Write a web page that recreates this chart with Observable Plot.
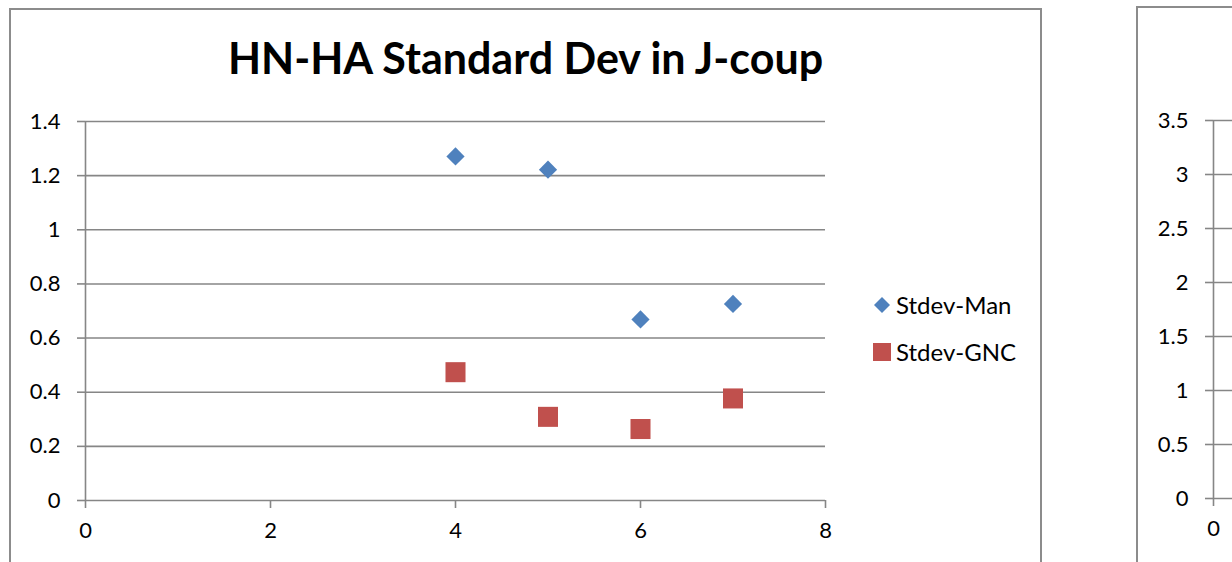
<!DOCTYPE html>
<html>
<head>
<meta charset="utf-8">
<script src="https://cdn.jsdelivr.net/npm/d3@7"></script>
<script src="https://cdn.jsdelivr.net/npm/@observablehq/plot@0.6"></script>
<style>
  html, body { margin: 0; padding: 0; background: #fff; }
  #page { position: relative; width: 1232px; height: 562px; overflow: hidden; font-family: Lato, "Open Sans", sans-serif; }
  .frame { position: absolute; border: 2px solid #8c8c8c; box-sizing: border-box; background: #fff; }
  .abs { position: absolute; }
  #title { position: absolute; left: 10px; width: 1031px; top: 32px; text-align: center; font: bold 43px Lato, sans-serif; color: #000; white-space: nowrap; }
  .leg { position: absolute; font: 24px Lato, sans-serif; color: #000; white-space: nowrap; display: flex; align-items: center; }
  svg { max-width: none !important; }
</style>
</head>
<body>
<div id="page">
  <div class="frame" style="left:9px;top:8px;width:1033px;height:600px"></div>
  <div class="frame" style="left:1136px;top:6px;width:600px;height:600px"></div>
  <div id="title">HN-HA Standard Dev in J-coup</div>
  <div id="chart1" class="abs" style="left:0;top:0;width:1041px"></div>
  <div id="chart2" class="abs" style="left:1137px;top:0;width:95px"></div>
  <div id="legend"></div>
</div>
<script>
// ---- data ----
const xValues = [4, 5, 6, 7];
const stdevMan = [1.271, 1.222, 0.669, 0.726];
const stdevGNC = [0.474, 0.309, 0.264, 0.377];
const seriesNames = ["Stdev-Man", "Stdev-GNC"];
const seriesColors = ["#4F81BD", "#C0504D"];
const xTicks1 = [0, 2, 4, 6, 8];
const yTicks1 = [0, 0.2, 0.4, 0.6, 0.8, 1, 1.2, 1.4];
const xTicks2 = [0];
const yTicks2 = [0, 0.5, 1, 1.5, 2, 2.5, 3, 3.5];

const gridColor = "#868686";
const fmt = d => String(+d.toFixed(2));

const manData = xValues.map((x, i) => ({x, y: stdevMan[i]}));
const gncData = xValues.map((x, i) => ({x, y: stdevGNC[i]}));

const axisStyle = {fontFamily: "Lato, sans-serif", fontSize: "22px", color: "#000", background: "transparent", maxWidth: "none"};

const chart1 = Plot.plot({
  width: 1041, height: 562,
  marginLeft: 85, marginRight: 216, marginTop: 121, marginBottom: 62,
  style: {...axisStyle, overflow: "visible"},
  x: {domain: [0, 8]},
  y: {domain: [0, 1.4]},
  marks: [
    Plot.ruleY(yTicks1, {x1: 0, x2: 8, stroke: gridColor, strokeWidth: 1.6}),
    Plot.ruleX([0], {y1: 0, y2: 1.4, stroke: gridColor, strokeWidth: 1.6}),
    Plot.axisY({ticks: yTicks1, tickSize: 8, tickPadding: 17, tickFormat: fmt, stroke: gridColor, strokeWidth: 1.6, strokeOpacity: 1, label: null}),
    Plot.axisX({ticks: xTicks1, tickSize: 8, tickPadding: 14, tickFormat: fmt, stroke: gridColor, strokeWidth: 1.6, strokeOpacity: 1, label: null}),
    Plot.dot(manData, {x: "x", y: "y", symbol: "diamond2", r: 8.2, fill: seriesColors[0], stroke: null}),
    Plot.dot(gncData, {x: "x", y: "y", symbol: "square", r: 11.3, fill: seriesColors[1], stroke: null})
  ]
});
document.getElementById("chart1").append(chart1);

const chart2 = Plot.plot({
  width: 95, height: 562,
  marginLeft: 76, marginRight: 0, marginTop: 120, marginBottom: 64,
  style: {...axisStyle, overflow: "hidden"},
  x: {domain: [0, 8], range: [76, 816]},
  y: {domain: [0, 3.5]},
  marks: [
    Plot.ruleY(yTicks2, {x1: 0, x2: 8, stroke: gridColor, strokeWidth: 1.6}),
    Plot.ruleX([0], {y1: 0, y2: 3.5, stroke: gridColor, strokeWidth: 1.6}),
    Plot.axisY({ticks: yTicks2, tickSize: 8, tickPadding: 17, tickFormat: fmt, stroke: gridColor, strokeWidth: 1.6, strokeOpacity: 1, label: null}),
    Plot.axisX({ticks: xTicks2, tickSize: 8, tickPadding: 14, tickFormat: fmt, stroke: gridColor, strokeWidth: 1.6, strokeOpacity: 1, label: null})
  ]
});
document.getElementById("chart2").append(chart2);

// ---- legend ----
const legend = document.getElementById("legend");
const legendPos = [{top: 290}, {top: 337}];
const shapes = [
  '<svg width="20" height="20" style="margin-right:4px"><path d="M10,2 L18,10 L10,18 L2,10 Z" fill="' + seriesColors[0] + '"/></svg>',
  '<svg width="20" height="20" style="margin-right:4px"><rect x="1" y="1" width="18" height="18" fill="' + seriesColors[1] + '"/></svg>'
];
seriesNames.forEach((name, i) => {
  const d = document.createElement("div");
  d.className = "leg";
  d.style.left = "872px";
  d.style.top = legendPos[i].top + "px";
  d.innerHTML = shapes[i] + '<span>' + name + '</span>';
  legend.append(d);
});
</script>
</body>
</html>
